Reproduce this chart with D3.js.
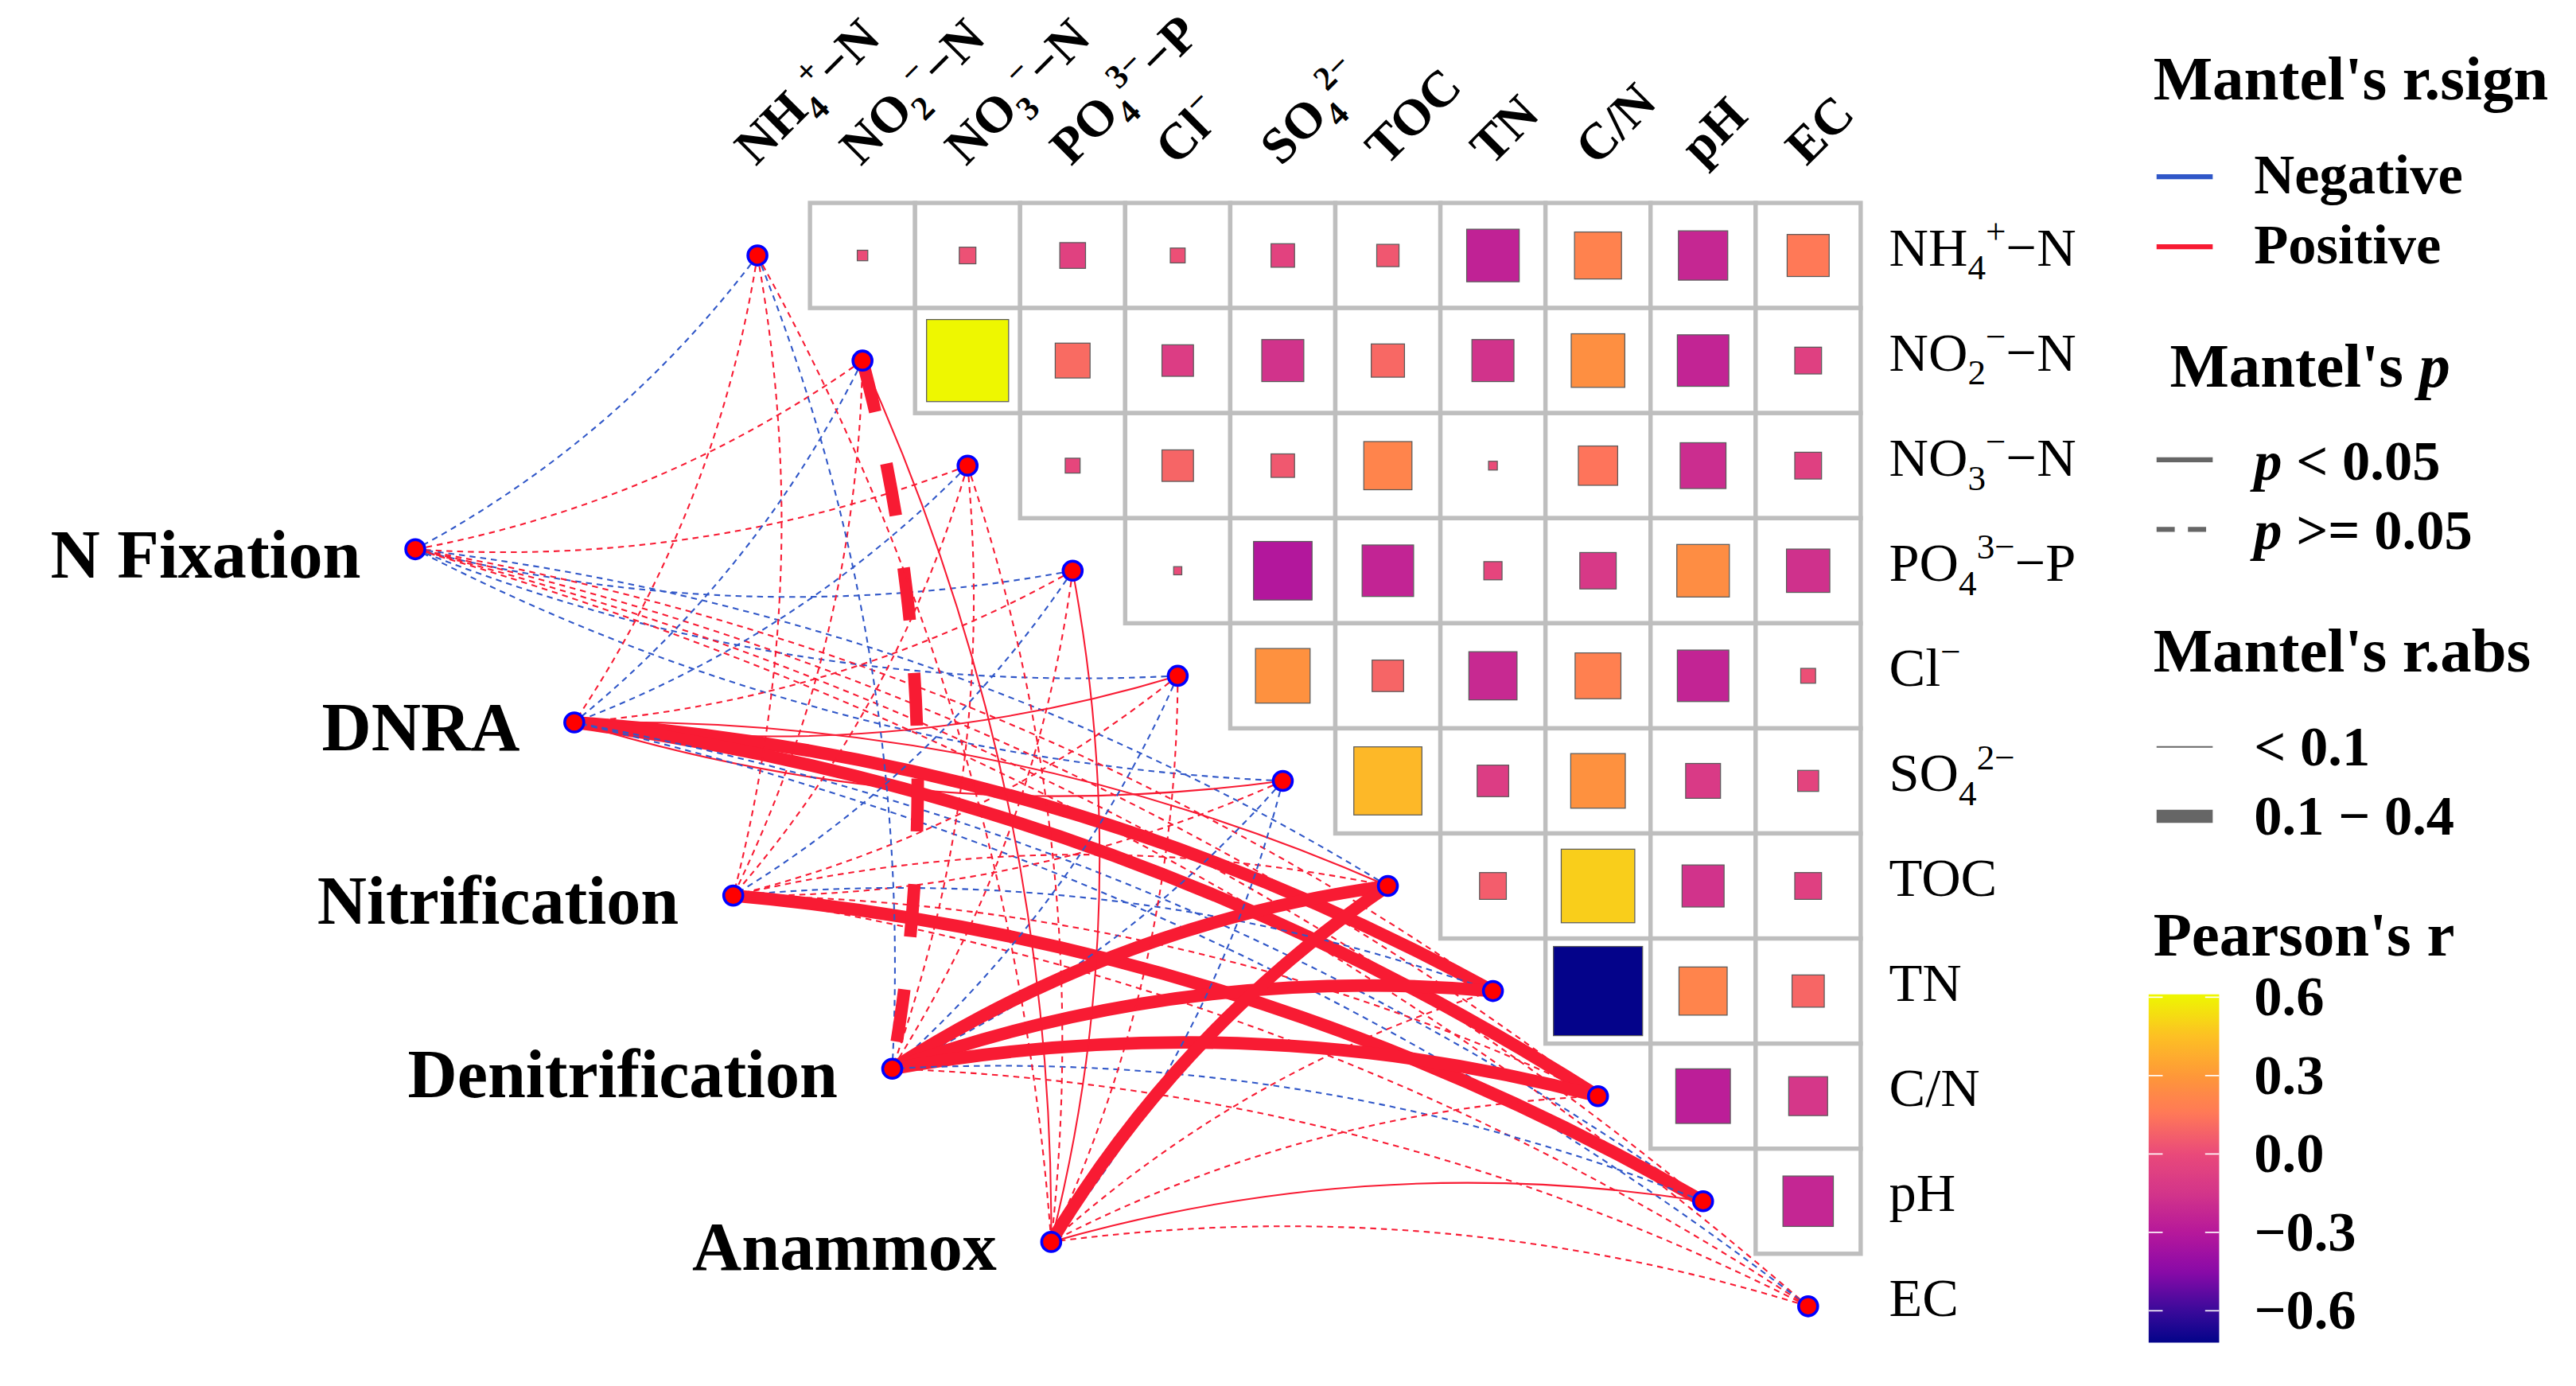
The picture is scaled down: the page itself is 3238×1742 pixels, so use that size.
<!DOCTYPE html>
<html>
<head>
<meta charset="utf-8">
<script src="https://cdn.jsdelivr.net/npm/d3@7/dist/d3.min.js"></script>
<style>
  html, body { margin: 0; padding: 0; background: #fff; }
  svg { display: block; }
</style>
</head>
<body>
<div id="chart"></div>
<script>
// environmental variables (matrix rows / columns, diagonal anchors)
const envVars = ["NH4", "NO2", "NO3", "PO4", "Cl", "SO4", "TOC", "TN", "C/N", "pH", "EC"];
// label pieces: [text, "sub" | "sup" | undefined]
const envLabels = [
  [["NH"], ["4", "sub"], ["+", "sup"], ["−N"]],
  [["NO"], ["2", "sub"], ["−", "sup"], ["−N"]],
  [["NO"], ["3", "sub"], ["−", "sup"], ["−N"]],
  [["PO"], ["4", "sub"], ["3−", "sup"], ["−P"]],
  [["Cl"], ["−", "sup"]],
  [["SO"], ["4", "sub"], ["2−", "sup"]],
  [["TOC"]],
  [["TN"]],
  [["C/N"]],
  [["pH"]],
  [["EC"]]
];

// Pearson's r, upper triangle, row i holds columns i+1 .. 10
const pearsonR = [
  [0.01, 0.025, -0.06, 0.02, -0.05, 0.045, -0.25, 0.20, -0.22, 0.16],
  [0.61, 0.11, -0.09, -0.16, 0.10, -0.16, 0.26, -0.24, -0.065],
  [-0.02, 0.09, 0.05, 0.21, 0.007, 0.14, -0.19, -0.065],
  [0.006, -0.31, -0.24, -0.03, -0.12, 0.25, -0.17],
  [0.27, 0.09, -0.21, 0.19, -0.24, 0.02],
  [0.42, -0.09, 0.27, -0.11, -0.04],
  [0.065, 0.49, -0.16, -0.065],
  [-0.72, 0.21, 0.094],
  [-0.27, -0.137],
  [-0.23]
];

const processes = ["N Fixation", "DNRA", "Nitrification", "Denitrification", "Anammox"];

// Mantel tests, one row per process, columns follow envVars
// sign of Mantel's r: 1 positive, -1 negative
const mantelSign = [
  [-1, 1, 1, -1, -1, -1, -1, 1, 1, 1, 1],
  [1, -1, -1, 1, 1, 1, 1, 1, 1, -1, -1],
  [1, 1, 1, -1, 1, 1, 1, -1, 1, 1, 1],
  [-1, 1, 1, 1, -1, -1, 1, 1, 1, -1, 1],
  [1, 1, 1, 1, 1, -1, 1, 1, 1, 1, 1]
];
// 1 = p < 0.05, 0 = p >= 0.05
const mantelSig = [
  [0, 0, 0, 0, 0, 0, 0, 0, 0, 0, 0],
  [0, 0, 0, 0, 1, 1, 1, 1, 1, 0, 0],
  [0, 0, 0, 0, 0, 0, 0, 0, 0, 1, 0],
  [0, 0, 0, 0, 0, 0, 1, 1, 1, 0, 0],
  [0, 1, 0, 1, 0, 0, 1, 0, 0, 1, 0]
];
// 1 = |r| 0.1 - 0.4, 0 = |r| < 0.1
const mantelAbs = [
  [0, 0, 0, 0, 0, 0, 0, 0, 0, 0, 0],
  [0, 0, 0, 0, 0, 0, 0, 1, 1, 0, 0],
  [0, 0, 0, 0, 0, 0, 0, 0, 0, 1, 0],
  [0, 1, 0, 0, 0, 0, 1, 1, 1, 0, 0],
  [0, 0, 0, 0, 0, 0, 1, 0, 0, 0, 0]
];

const colorTicks = [0.6, 0.3, 0.0, -0.3, -0.6];
// colour ramp of the Pearson's r bar
const rampStops = [-0.722, -0.6, -0.45, -0.3, -0.15, 0, 0.15, 0.3, 0.45, 0.611];
const rampColors = ["#03038a", "#3a0a9a", "#8a0aa8", "#b6189b", "#d3358a", "#e9497a",
  "#ff7759", "#fe9838", "#fdc024", "#eef700"];

const W = 3238, H = 1742;
const vw = 1560, vh = vw * H / W;
const serif = "'Liberation Serif', 'Times New Roman', serif";
const RED = "#f81b33", BLUE = "#3057c8";

const svg = d3.select("#chart").append("svg")
  .attr("width", W).attr("height", H)
  .attr("viewBox", `0 0 ${vw} ${vh}`)
  .style("font-family", serif);

const x = d3.scalePoint().domain(envVars).range([458.7, 1095.0]);
const y = d3.scalePoint().domain(envVars).range([154.7, 791.0]);
const cell = x.step();
const px = d3.scalePoint().domain(processes).range([251.5, 636.6]);
const py = d3.scalePoint().domain(processes).range([332.6, 752.0]);
const side = d3.scaleSqrt().domain([0, 1]).range([0, cell]);
const fill = d3.scaleLinear().domain(rampStops).range(rampColors)
  .interpolate(d3.interpolateRgb).clamp(true);
const colorDomain = d3.extent(rampStops);

function rich(sel, parts, fs) {
  let cur = 0;
  parts.forEach(p => {
    const target = p[1] === "sub" ? fs * 0.26 : p[1] === "sup" ? -fs * 0.4 : 0;
    sel.append("tspan")
      .attr("dy", target - cur)
      .attr("font-size", p[1] ? fs * 0.66 : fs)
      .text(p[0]);
    cur = target;
  });
}

// grid cells + squares
const cells = [];
pearsonR.forEach((row, i) => row.forEach((r, k) => cells.push({ i, j: i + 1 + k, r })));

const grid = svg.append("g");
grid.selectAll("rect.cell").data(cells).enter().append("rect")
  .attr("class", "cell")
  .attr("x", d => x(envVars[d.j]) - cell / 2)
  .attr("y", d => y(envVars[d.i]) - cell / 2)
  .attr("width", cell).attr("height", cell)
  .attr("fill", "#fff").attr("stroke", "#bebebe").attr("stroke-width", 2.6);

grid.selectAll("rect.sq").data(cells).enter().append("rect")
  .attr("class", "sq")
  .attr("x", d => x(envVars[d.j]) - side(Math.abs(d.r)) / 2)
  .attr("y", d => y(envVars[d.i]) - side(Math.abs(d.r)) / 2)
  .attr("width", d => side(Math.abs(d.r)))
  .attr("height", d => side(Math.abs(d.r)))
  .attr("fill", d => fill(d.r))
  .attr("stroke", "#5a5a5a").attr("stroke-width", 0.6);

// Mantel links
const links = [];
processes.forEach((p, k) => envVars.forEach((e, i) => links.push({
  k, i,
  sign: mantelSign[k][i], sig: mantelSig[k][i], thick: mantelAbs[k][i]
})));

function curve(d) {
  const x0 = px(processes[d.k]), y0 = py(processes[d.k]);
  const x1 = x(envVars[d.i]), y1 = y(envVars[d.i]);
  const dx = x1 - x0, dy = y1 - y0, L = Math.hypot(dx, dy);
  const s = d.i <= 5 ? 1 : -1;
  const h = 0.11 * L * s;
  const cx = (x0 + x1) / 2 - dy / L * h, cy = (y0 + y1) / 2 + dx / L * h;
  const path = d3.path();
  path.moveTo(x1, y1);
  path.quadraticCurveTo(cx, cy, x0, y0);
  return path.toString();
}

svg.append("g").selectAll("path").data(links).enter().append("path")
  .attr("d", curve)
  .attr("fill", "none")
  .attr("stroke", d => d.sign > 0 ? RED : BLUE)
  .attr("stroke-width", d => d.thick ? 7.6 : 1.0)
  .attr("stroke-dasharray", d => d.sig ? null : (d.thick ? "32,32" : "3.6,2.9"));

// nodes
const nodes = envVars.map(e => ({ x: x(e), y: y(e) }))
  .concat(processes.map(p => ({ x: px(p), y: py(p) })));
svg.append("g").selectAll("circle").data(nodes).enter().append("circle")
  .attr("cx", d => d.x).attr("cy", d => d.y).attr("r", 5.8)
  .attr("fill", "#ff0000").attr("stroke", "#0000ff").attr("stroke-width", 1.7);

// process labels
svg.append("g").selectAll("text").data(processes).enter().append("text")
  .attr("x", d => px(d) - 33).attr("y", d => py(d) + 17)
  .attr("text-anchor", "end").attr("font-size", 41.5).attr("font-weight", "bold")
  .text(d => d);

// row labels (right)
envVars.forEach((e, i) => {
  const t = svg.append("text").attr("x", 1144).attr("y", y(e) + 6).attr("font-size", 33);
  rich(t, envLabels[i], 33);
});

// column labels (top, rotated)
envVars.forEach((e, i) => {
  const t = svg.append("text")
    .attr("transform", `translate(${x(e) - 1},101) rotate(-45)`)
    .attr("font-size", 31).attr("font-weight", "bold");
  rich(t, envLabels[i], 31);
});

// legends
const lg = svg.append("g").attr("font-weight", "bold");
const keyX0 = 1306, keyX1 = 1340, txtX = 1365;
lg.append("text").attr("x", 1304).attr("y", 60).attr("font-size", 38).text("Mantel's r.sign");
[["Negative", BLUE, 107], ["Positive", RED, 149.4]].forEach(([lab, c, yy]) => {
  lg.append("line").attr("x1", keyX0).attr("x2", keyX1).attr("y1", yy).attr("y2", yy)
    .attr("stroke", c).attr("stroke-width", 3);
  lg.append("text").attr("x", txtX).attr("y", yy + 10).attr("font-size", 34).text(lab);
});

const tp = lg.append("text").attr("x", 1314).attr("y", 234).attr("font-size", 38);
tp.append("tspan").text("Mantel's ");
tp.append("tspan").attr("font-style", "italic").text("p");
[["< 0.05", null, 278.4], [">= 0.05", "11,8", 320.6]].forEach(([lab, dash, yy]) => {
  lg.append("line").attr("x1", keyX0).attr("x2", keyX1).attr("y1", yy).attr("y2", yy)
    .attr("stroke", "#666").attr("stroke-width", 3).attr("stroke-dasharray", dash);
  const t = lg.append("text").attr("x", txtX).attr("y", yy + 12).attr("font-size", 34);
  t.append("tspan").attr("font-style", "italic").text("p");
  t.append("tspan").text(" " + lab);
});

lg.append("text").attr("x", 1304).attr("y", 406.6).attr("font-size", 38).text("Mantel's r.abs");
[["< 0.1", 1, 452.3], ["0.1 − 0.4", 8, 494.3]].forEach(([lab, w, yy]) => {
  lg.append("line").attr("x1", keyX0).attr("x2", keyX1).attr("y1", yy).attr("y2", yy)
    .attr("stroke", "#666").attr("stroke-width", w);
  lg.append("text").attr("x", txtX).attr("y", yy + 11).attr("font-size", 34).text(lab);
});

lg.append("text").attr("x", 1304).attr("y", 578.6).attr("font-size", 38).text("Pearson's r");

// colour bar
const cb = { x: 1301.2, w: 42.7, y0: 602.1, y1: 813 };
const cy = d3.scaleLinear().domain([colorDomain[1], colorDomain[0]]).range([cb.y0, cb.y1]);
const grad = svg.append("defs").append("linearGradient").attr("id", "cbar")
  .attr("x1", 0).attr("x2", 0).attr("y1", 0).attr("y2", 1);
d3.range(0, 1.0001, 0.02).forEach(t => {
  grad.append("stop").attr("offset", t)
    .attr("stop-color", fill(colorDomain[1] - t * (colorDomain[1] - colorDomain[0])));
});
svg.append("rect").attr("x", cb.x).attr("y", cb.y0).attr("width", cb.w)
  .attr("height", cb.y1 - cb.y0).attr("fill", "url(#cbar)");
colorTicks.forEach(v => {
  [[cb.x, cb.x + 8.5], [cb.x + cb.w - 8.5, cb.x + cb.w]].forEach(([a, b]) => {
    svg.append("line").attr("x1", a).attr("x2", b).attr("y1", cy(v)).attr("y2", cy(v))
      .attr("stroke", "#fff").attr("stroke-width", 0.8);
  });
  lg.append("text").attr("x", txtX).attr("y", cy(v) + 11).attr("font-size", 34)
    .text(d3.format(".1f")(v).replace("-", "−"));
});
</script>
</body>
</html>
